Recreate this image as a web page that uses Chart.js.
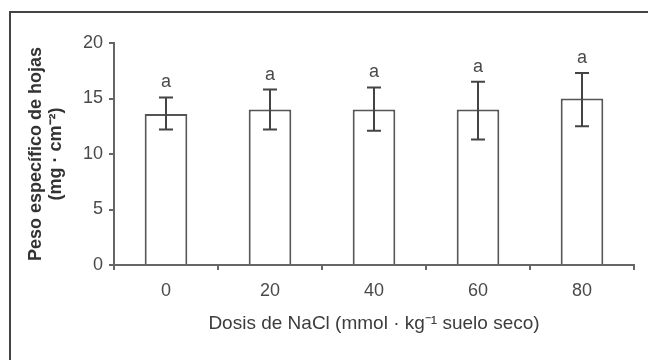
<!DOCTYPE html>
<html lang="es">
<head>
    <meta charset="UTF-8">
    <title>Peso específico de hojas</title>
    <script src="https://cdn.jsdelivr.net/npm/chart.js@4.4.1/dist/chart.umd.min.js"></script>
    <style>
        html, body { margin: 0; padding: 0; background: #fff; }
        #wrap { width: 648px; height: 360px; position: relative; }
    </style>
</head>
<body>
    <div id="wrap">
        <canvas id="myChart"></canvas>
    </div>

    <script>
      // data
      const doses = ['0', '20', '40', '60', '80'];
      const meanValues = [13.6, 14.0, 14.0, 14.0, 15.0];
      const errHigh = [15.1, 15.8, 16.0, 16.5, 17.3];
      const errLow = [12.2, 12.2, 12.1, 11.3, 12.5];
      const letters = ['a', 'a', 'a', 'a', 'a'];
      const yTicks = [0, 5, 10, 15, 20];

      const ink = '#4a4a4a';
      const fontName = '"Liberation Sans", Arial, sans-serif';

      // frame, error bars and letters
      const extras = {
        id: 'extras',
        beforeDraw(chart) {
          const ctx = chart.ctx;
          ctx.save();
          ctx.strokeStyle = '#444';
          ctx.lineWidth = 2;
          ctx.beginPath();
          ctx.moveTo(10, 360);
          ctx.lineTo(10, 12);
          ctx.lineTo(648, 12);
          ctx.stroke();
          ctx.restore();
        },
        afterDatasetsDraw(chart) {
          const ctx = chart.ctx;
          const x = chart.scales.x;
          const y = chart.scales.y;
          ctx.save();
          ctx.strokeStyle = '#444';
          ctx.lineWidth = 2;
          ctx.fillStyle = ink;
          ctx.font = '18px ' + fontName;
          ctx.textAlign = 'center';
          ctx.textBaseline = 'middle';
          doses.forEach((d, i) => {
            const cx = x.getPixelForValue(i);
            const top = y.getPixelForValue(errHigh[i]);
            const bot = y.getPixelForValue(errLow[i]);
            ctx.beginPath();
            ctx.moveTo(cx, top);
            ctx.lineTo(cx, bot);
            ctx.moveTo(cx - 7, top);
            ctx.lineTo(cx + 7, top);
            ctx.moveTo(cx - 7, bot);
            ctx.lineTo(cx + 7, bot);
            ctx.stroke();
            ctx.fillText(letters[i], cx, top - 15);
          });
          ctx.restore();
        }
      };

      const chart = new Chart(document.getElementById('myChart'), {
        type: 'bar',
        data: {
          labels: doses,
          datasets: [{
            data: meanValues,
            backgroundColor: '#ffffff',
            borderColor: '#555',
            borderWidth: 2,
            borderSkipped: 'bottom',
            categoryPercentage: 1,
            barPercentage: 0.41
          }]
        },
        options: {
          responsive: true,
          maintainAspectRatio: false,
          animation: false,
          layout: { padding: { top: 43, right: 14, left: 0, bottom: 0 } },
          plugins: {
            legend: { display: false },
            tooltip: { enabled: false }
          },
          scales: {
            x: {
              afterFit(scale) { scale.height = 95; },
              border: { color: '#666', width: 2 },
              grid: { drawOnChartArea: false, color: '#666', lineWidth: 2, tickLength: 5, offset: true },
              ticks: { color: ink, font: { family: fontName, size: 18 }, padding: 10 },
              title: {
                display: true,
                text: 'Dosis de NaCl (mmol · kg⁻¹ suelo seco)',
                color: '#3c3c3c',
                font: { family: fontName, size: 19 },
                padding: { top: 0, bottom: 25 }
              }
            },
            y: {
              min: 0,
              max: 20,
              afterFit(scale) { scale.width = 114; },
              afterBuildTicks(scale) { scale.ticks = yTicks.map(v => ({ value: v })); },
              border: { color: '#666', width: 2 },
              grid: { drawOnChartArea: false, color: '#666', lineWidth: 2, tickLength: 5 },
              ticks: { color: ink, font: { family: fontName, size: 18 }, padding: 6 },
              title: {
                display: true,
                text: ['Peso específico de hojas', '(mg · cm⁻²)'],
                color: '#333',
                font: { family: fontName, size: 18, weight: 'bold', lineHeight: 1.12 },
                padding: { top: 26, bottom: 0 }
              }
            }
          }
        },
        plugins: [extras]
      });
    </script>
</body>
</html>
